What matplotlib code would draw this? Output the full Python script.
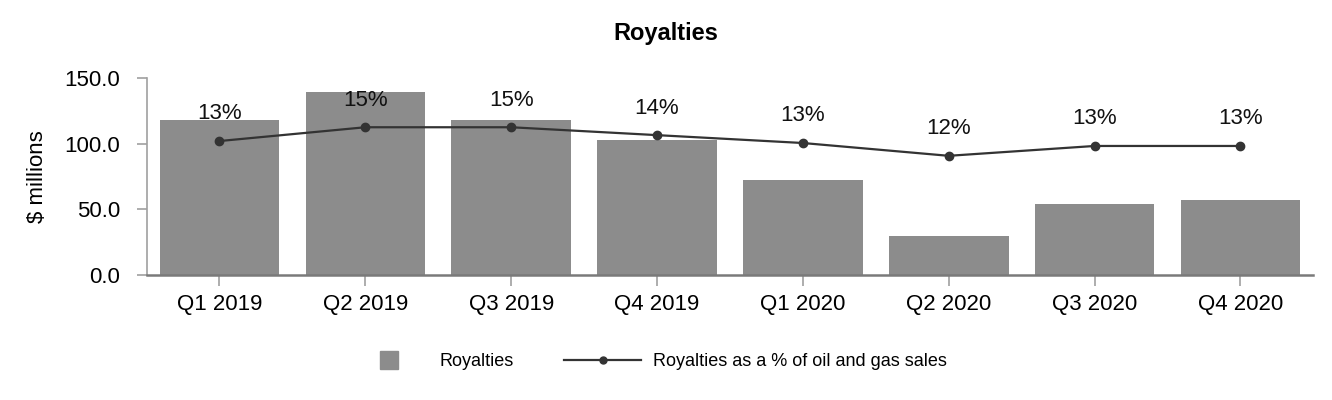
import matplotlib
matplotlib.use("Agg")
import matplotlib.pyplot as plt
from matplotlib.lines import Line2D

plt.rcParams['font.family'] = ['Liberation Sans', 'DejaVu Sans']

quarters = ["Q1 2019", "Q2 2019", "Q3 2019", "Q4 2019", "Q1 2020", "Q2 2020", "Q3 2020", "Q4 2020"]
royalties = [118.0, 139.4, 118.0, 102.8, 72.3, 29.7, 54.0, 57.1]  # $ millions
pctSales = [13.6, 15.0, 15.0, 14.2, 13.4, 12.1, 13.1, 13.1]  # % of oil and gas sales
pctLabels = ["13%", "15%", "15%", "14%", "13%", "12%", "13%", "13%"]

barColor = "#8c8c8c"
lineColor = "#333333"

fig = plt.figure(figsize=(13.32, 4.0), dpi=100)
ax1 = fig.add_axes([0.110, 0.3125, 0.876, 0.4925])
xs = list(range(len(quarters)))
ax1.bar(xs, royalties, width=0.82, color=barColor, zorder=2)
ax1.set_xlim(-0.5, 7.5)
ax1.set_ylim(0, 150)
ax1.set_yticks([0, 50, 100, 150])
ax1.set_yticklabels([f"{v:.1f}" for v in [0, 50, 100, 150]])
ax1.set_xticks(xs)
ax1.set_xticklabels(quarters)
ax1.set_ylabel("$ millions", fontsize=16, labelpad=12)
ax1.tick_params(axis="y", labelsize=16, length=7, width=1.2, color="#a0a0a0", pad=12)
ax1.tick_params(axis="x", labelsize=16, length=8, width=1.2, color="#a0a0a0", pad=6)
for s in ["top", "right"]:
    ax1.spines[s].set_visible(False)
ax1.spines["left"].set_color("#a0a0a0")
ax1.spines["left"].set_linewidth(1.2)
ax1.spines["bottom"].set_color("#7a7a7a")
ax1.spines["bottom"].set_linewidth(1.8)
ax1.spines["bottom"].set_zorder(3)

ax2 = ax1.twinx()
ax2.set_ylim(0, 20)
ax2.axis("off")
ax2.plot(xs, pctSales, color=lineColor, lw=1.6, marker="o", markersize=6)
for x, y, lab in zip(xs, pctSales, pctLabels):
    ax2.annotate(lab, (x, y), xytext=(0, 19.5), textcoords="offset points",
                 ha="center", va="center", fontsize=16, color="#111111")

fig.suptitle("Royalties", x=0.5, y=0.945, fontsize=17, fontweight="bold")

handles = [
    Line2D([], [], marker="s", linestyle="none", markersize=13, color=barColor),
    Line2D([], [], color=lineColor, lw=1.6, marker="o", markersize=5),
]
fig.legend(handles, ["Royalties", "Royalties as a % of oil and gas sales"],
           loc="center", bbox_to_anchor=(0.487, 0.095), ncol=2, frameon=False,
           fontsize=13, handlelength=4.25, handletextpad=0.66, columnspacing=2.8)

fig.savefig("out.png", dpi=100)
